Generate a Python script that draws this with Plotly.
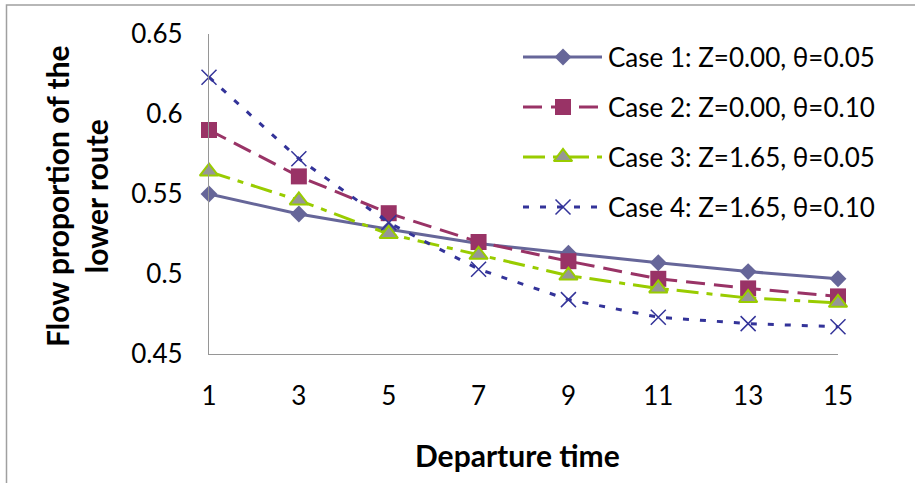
import plotly.graph_objects as go

departure = [1, 3, 5, 7, 9, 11, 13, 15]
case1 = [0.550, 0.5375, 0.528, 0.519, 0.513, 0.507, 0.5015, 0.497]
case2 = [0.590, 0.561, 0.538, 0.520, 0.508, 0.497, 0.491, 0.486]
case3 = [0.564, 0.546, 0.525, 0.512, 0.499, 0.491, 0.485, 0.482]
case4 = [0.623, 0.572, 0.532, 0.503, 0.484, 0.473, 0.469, 0.467]
names = ["Case 1: Z=0.00, θ=0.05", "Case 2: Z=0.00, θ=0.10",
         "Case 3: Z=1.65, θ=0.05", "Case 4: Z=1.65, θ=0.10"]
y_ticks = [0.45, 0.5, 0.55, 0.6, 0.65]
y_ticktext = ["0.45", "0.5", "0.55", "0.6", "0.65"]

W, H = 915, 483
L, R, T, B = 209, 77, 34, 129
FONT = "Lato"

styles = [
    dict(line=dict(color="#666699", width=3, dash="solid"),
         marker=dict(symbol="diamond", size=13, color="#666699")),
    dict(line=dict(color="#993366", width=3, dash="19px,9px"),
         marker=dict(symbol="square", size=16, color="#993366")),
    dict(line=dict(color="#99CC00", width=3, dash="22px,8px,6px,8px"),
         marker=dict(symbol="triangle-up", size=16, color="#969696",
                     line=dict(color="#99CC00", width=2))),
    dict(line=dict(color="#333399", width=3, dash="6px,11px"),
         marker=dict(symbol="x-thin", size=15, color="#333399",
                     line=dict(color="#333399", width=1.5))),
]
series = [case1, case2, case3, case4]

fig = go.Figure()
for s, st, nm in zip(series, styles, names):
    fig.add_trace(go.Scatter(x=departure, y=s, mode="lines+markers", name=nm,
                             line=st["line"], marker=st["marker"],
                             cliponaxis=False, showlegend=False))

# custom legend (pixel-coordinate overlay axes)
leg_rows = [57, 107, 157, 207]
leg_x0, leg_x1, leg_xm, text_x = 523, 602, 563, 606
for st, nm, ry in zip(styles, names, leg_rows):
    fig.add_trace(go.Scatter(x=[leg_x0, leg_x1], y=[ry, ry], mode="lines",
                             line=st["line"], xaxis="x2", yaxis="y2",
                             showlegend=False, hoverinfo="skip", cliponaxis=False))
    fig.add_trace(go.Scatter(x=[leg_xm], y=[ry], mode="markers",
                             marker=st["marker"], xaxis="x2", yaxis="y2",
                             showlegend=False, hoverinfo="skip", cliponaxis=False))
    fig.add_annotation(x=text_x, y=ry, xref="x2", yref="y2", text=nm,
                       showarrow=False, xanchor="left", yanchor="middle",
                       font=dict(family=FONT, size=26, color="black"))

pw, ph = W - L - R, H - T - B
def px_x(px):
    return (px - L) / pw
def px_y(py):
    return (H - B - py) / ph

fig.add_shape(type="rect", xref="paper", yref="paper",
              x0=px_x(6.5), x1=px_x(960), y0=px_y(520), y1=px_y(5),
              line=dict(color="#A0A0A0", width=1.5), fillcolor="rgba(0,0,0,0)",
              layer="below")

fig.add_annotation(x=px_x(517), y=px_y(455), xref="paper", yref="paper",
                   text="<b>Departure time</b>", showarrow=False,
                   xanchor="center", yanchor="middle",
                   font=dict(family=FONT, size=30, color="black"))
fig.add_annotation(x=px_x(76), y=px_y(196), xref="paper", yref="paper",
                   text="<b>Flow proportion of the<br>lower route</b>", showarrow=False,
                   textangle=-90, xanchor="center", yanchor="middle",
                   font=dict(family=FONT, size=30, color="black"))

fig.update_layout(
    width=W, height=H,
    margin=dict(l=L, r=R, t=T, b=B, pad=0),
    paper_bgcolor="white", plot_bgcolor="white",
    font=dict(family=FONT, size=26, color="black"),
    hovermode=False,
    xaxis=dict(range=[1, 15], tickvals=departure, showgrid=False, zeroline=False,
               showline=True, linecolor="#969696", linewidth=1.2,
               ticks="outside", ticklen=19, tickcolor="rgba(0,0,0,0)",
               tickfont=dict(family=FONT, size=26)),
    yaxis=dict(range=[0.45, 0.65], tickvals=y_ticks, ticktext=y_ticktext,
               showgrid=False, zeroline=False,
               showline=True, linecolor="#969696", linewidth=1.2,
               ticks="outside", ticklen=20, tickcolor="rgba(0,0,0,0)",
               tickfont=dict(family=FONT, size=26)),
    xaxis2=dict(range=[L, W - R], overlaying="x", visible=False, fixedrange=True),
    yaxis2=dict(range=[H - B, T], overlaying="y", visible=False, fixedrange=True),
)

fig.write_html("out.html", config={"displayModeBar": False, "staticPlot": True},
               post_script="document.body.style.margin='0';document.body.style.padding='0';")
